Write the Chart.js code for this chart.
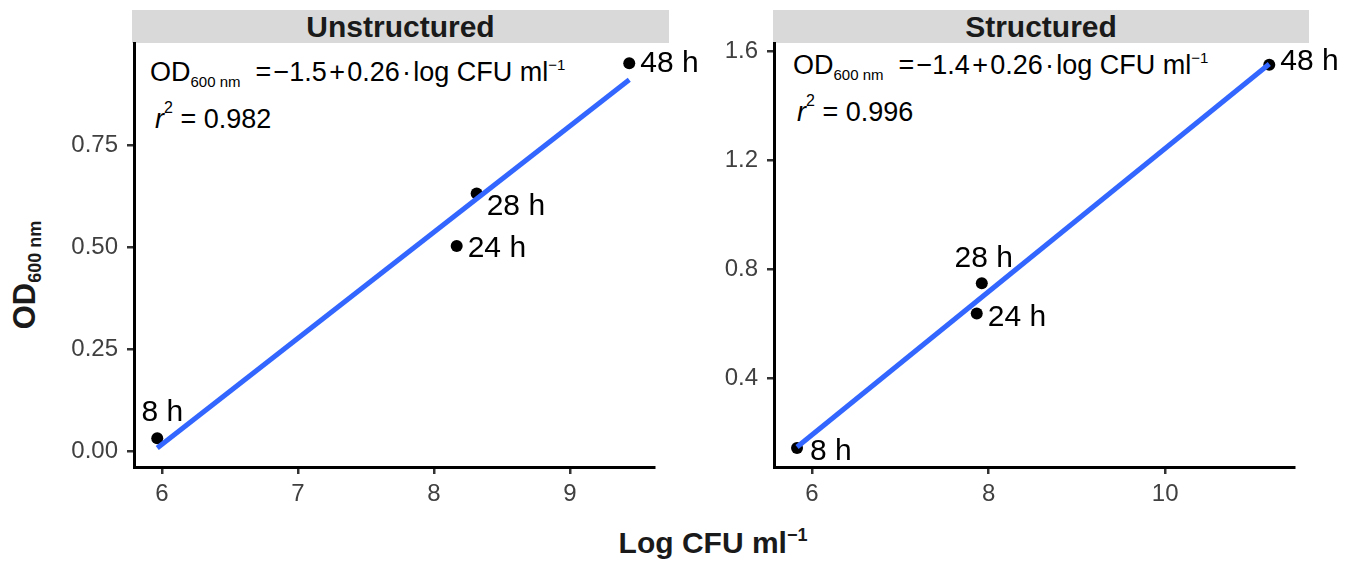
<!DOCTYPE html>
<html>
<head>
<meta charset="utf-8">
<script src="https://cdn.jsdelivr.net/npm/chart.js@4.4.0/dist/chart.umd.min.js"></script>
<style>
  html, body { margin:0; padding:0; background:#fff; }
  body { width:1356px; height:565px; overflow:hidden; position:relative; font-family:"Liberation Sans", Arial, sans-serif; }
  canvas { position:absolute; top:0; }
  .strip { position:absolute; top:10px; height:33px; background:#D9D9D9; color:#1A1A1A; font-weight:bold; font-size:30px; text-align:center; line-height:33px; }
  .eq { position:absolute; font-size:27px; line-height:1; color:#000; white-space:nowrap; }
  .sub { font-size:15px; position:relative; top:6px; }
  .sup { font-size:15px; position:relative; top:-11px; }
  .sup2 { font-size:16px; position:relative; top:-15px; }
  .ytitle { position:absolute; left:0; top:0; width:0; height:0; }
  .ytitle span.t { position:absolute; white-space:nowrap; font-weight:bold; font-size:31px; line-height:1; color:#1A1A1A; transform:translate(-50%,-50%) rotate(-90deg); }
  .ysub { font-size:18px; position:relative; top:6px; }
  .xtitle { position:absolute; top:528px; left:713px; transform:translateX(-50%); white-space:nowrap; font-weight:bold; font-size:30px; line-height:1; color:#1A1A1A; }
  .xsup { font-size:18px; position:relative; top:-12px; }
</style>
</head>
<body>
<div class="strip" style="left:132px; width:537px;">Unstructured</div>
<div class="strip" style="left:773px; width:536px;">Structured</div>

<div class="eq" style="left:150px; top:59px;">OD<span class="sub">600 nm</span>&nbsp; =&#8202;−1.5&#8202;+&#8202;0.26&#8202;·&#8202;log CFU ml<span class="sup">−1</span></div>
<div class="eq" style="left:155px; top:106px;"><i>r</i><span class="sup2">2</span> = 0.982</div>
<div class="eq" style="left:793px; top:52px;">OD<span class="sub">600 nm</span>&nbsp; =&#8202;−1.4&#8202;+&#8202;0.26&#8202;·&#8202;log CFU ml<span class="sup">−1</span></div>
<div class="eq" style="left:797px; top:99px;"><i>r</i><span class="sup2">2</span> = 0.996</div>

<div class="ytitle" style="left:24px; top:275px;"><span class="t">OD<span class="ysub">600 nm</span></span></div>
<div class="xtitle">Log CFU ml<span class="xsup">−1</span></div>

<canvas id="cA" width="740" height="565" style="left:0px; width:740px; height:565px;"></canvas>
<canvas id="cB" width="676" height="565" style="left:680px; width:676px; height:565px;"></canvas>

<script>
// ---- data ----
const timeLabels = ['8 h', '24 h', '28 h', '48 h'];
const unstructuredLogCFU = [5.965, 8.167, 8.314, 9.436];
const unstructuredOD     = [0.032, 0.503, 0.632, 0.951];
const structuredLogCFU   = [5.83, 7.866, 7.923, 11.18];
const structuredOD       = [0.143, 0.637, 0.7475, 1.549];

const unstructuredXTicks = [6, 7, 8, 9];
const unstructuredXTickLabels = ['6', '7', '8', '9'];
const unstructuredYTicks = [0, 0.25, 0.5, 0.75];
const unstructuredYTickLabels = ['0.00', '0.25', '0.50', '0.75'];
const structuredXTicks = [6, 8, 10];
const structuredXTickLabels = ['6', '8', '10'];
const structuredYTicks = [0.4, 0.8, 1.2, 1.6];
const structuredYTickLabels = ['0.4', '0.8', '1.2', '1.6'];

// ---- helpers ----
function linFit(xs, ys) {
  const n = xs.length;
  const mx = xs.reduce((a, b) => a + b, 0) / n;
  const my = ys.reduce((a, b) => a + b, 0) / n;
  let sxy = 0, sxx = 0;
  for (let i = 0; i < n; i++) { sxy += (xs[i] - mx) * (ys[i] - my); sxx += (xs[i] - mx) ** 2; }
  const b = sxy / sxx;
  return { a: my - b * mx, b };
}

const pointLabelPlugin = {
  id: 'pointLabels',
  afterDatasetsDraw(chart, args, opts) {
    const meta = chart.getDatasetMeta(opts.datasetIndex);
    const ctx = chart.ctx;
    ctx.save();
    ctx.font = opts.size + 'px ' + opts.family;
    ctx.fillStyle = opts.color;
    ctx.textBaseline = 'middle';
    meta.data.forEach((el, i) => {
      const o = opts.offsets[i];
      ctx.textAlign = o.align;
      ctx.fillText(opts.labels[i], el.x + o.dx, el.y + o.dy);
    });
    ctx.restore();
  }
};

const FONT = '"Liberation Sans", Arial, sans-serif';
const PLOT_TOP = 43, PLOT_BOTTOM = 467, H = 565;

function makePanel(id, xs, ys, xTicks, xTickLabels, yTicks, yTickLabels, layout) {
  const f = linFit(xs, ys);
  const xMinD = Math.min(...xs), xMaxD = Math.max(...xs);
  const pts = xs.map((x, i) => ({ x, y: ys[i] }));
  const fitLine = [{ x: xMinD, y: f.a + f.b * xMinD }, { x: xMaxD, y: f.a + f.b * xMaxD }];
  const tickFrom = (vals) => (scale) => { scale.ticks = vals.map(v => ({ value: v })); };
  const labelFrom = (vals, labs) => (v) => { const k = vals.findIndex(t => Math.abs(t - v) < 1e-9); return k >= 0 ? labs[k] : ''; };

  return new Chart(document.getElementById(id), {
    type: 'scatter',
    data: {
      datasets: [
        { type: 'line', data: fitLine, showLine: true, borderColor: '#3366FF', borderWidth: 5,
          pointRadius: 0, fill: false, order: 0, tension: 0 },
        { type: 'scatter', data: pts, backgroundColor: '#000000', borderWidth: 0,
          pointRadius: 6, pointHoverRadius: 6, order: 1 }
      ]
    },
    options: {
      responsive: false,
      animation: false,
      devicePixelRatio: 1,
      layout: { padding: { top: PLOT_TOP, right: layout.canvasWidth - layout.areaRight, left: 0, bottom: 0 } },
      plugins: {
        legend: { display: false },
        tooltip: { enabled: false },
        pointLabels: { datasetIndex: 1, labels: timeLabels, offsets: layout.labelOffsets,
                       size: 30, family: FONT, color: '#000000' }
      },
      scales: {
        x: {
          type: 'linear', position: 'bottom', min: layout.xMin, max: layout.xMax,
          afterFit: (s) => { s.height = H - PLOT_BOTTOM; },
          afterBuildTicks: tickFrom(xTicks),
          ticks: { callback: labelFrom(xTicks, xTickLabels), font: { family: FONT, size: 24 }, color: '#404040',
                   padding: 6, maxRotation: 0, autoSkip: false },
          grid: { display: true, drawOnChartArea: false, drawTicks: true, tickLength: 7, tickColor: '#333333', lineWidth: 2.5 },
          border: { display: true, color: '#000000', width: 3 }
        },
        y: {
          type: 'linear', position: 'left', min: layout.yMin, max: layout.yMax,
          afterFit: (s) => { s.width = layout.areaLeft; },
          afterBuildTicks: tickFrom(yTicks),
          ticks: { callback: labelFrom(yTicks, yTickLabels), font: { family: FONT, size: 24 }, color: '#404040',
                   padding: 9, autoSkip: false },
          grid: { display: true, drawOnChartArea: false, drawTicks: true, tickLength: 7, tickColor: '#333333', lineWidth: 2.5 },
          border: { display: true, color: '#000000', width: 3 }
        }
      }
    },
    plugins: [pointLabelPlugin]
  });
}

makePanel('cA', unstructuredLogCFU, unstructuredOD,
  unstructuredXTicks, unstructuredXTickLabels, unstructuredYTicks, unstructuredYTickLabels,
  { canvasWidth: 740, areaLeft: 134, areaRight: 654, xMin: 5.794, xMax: 9.618, yMin: -0.0385, yMax: 1.0007,
    labelOffsets: [ { dx: 5, dy: -26, align: 'center' }, { dx: 11, dy: 3, align: 'left' },
                    { dx: 10, dy: 13, align: 'left' }, { dx: 11, dy: 0, align: 'left' } ] });

makePanel('cB', structuredLogCFU, structuredOD,
  structuredXTicks, structuredXTickLabels, structuredYTicks, structuredYTickLabels,
  { canvasWidth: 676, areaLeft: 94, areaRight: 614, xMin: 5.569, xMax: 11.46, yMin: 0.0734, yMax: 1.629,
    labelOffsets: [ { dx: 13, dy: 4, align: 'left' }, { dx: 11, dy: 4, align: 'left' },
                    { dx: 2, dy: -25, align: 'center' }, { dx: 11, dy: -3, align: 'left' } ] });
</script>
</body>
</html>
